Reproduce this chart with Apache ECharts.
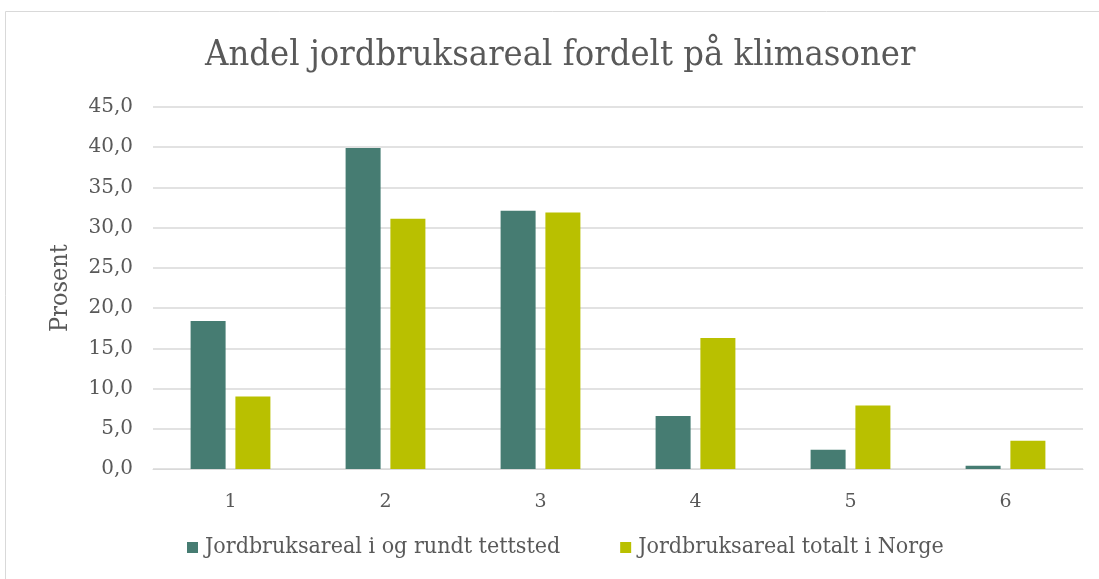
<!DOCTYPE html>
<html>
<head>
<meta charset="utf-8">
<script src="https://cdn.jsdelivr.net/npm/echarts@6/dist/echarts.min.js"></script>
<style>
  html, body { margin: 0; padding: 0; background: #fff; }
  #echarts { width: 1099px; height: 579px; }
</style>
</head>
<body>
<div id="echarts"></div>
<script>
const categories = ['1', '2', '3', '4', '5', '6'];
const tettsted = [18.4, 39.9, 32.1, 6.6, 2.4, 0.4];
const norge = [9.0, 31.1, 31.9, 16.3, 7.9, 3.5];
const seriesNames = ['Jordbruksareal i og rundt tettsted', 'Jordbruksareal totalt i Norge'];

const font = '"DejaVu Serif Condensed", "DejaVu Serif", serif';
const numFont = '"DejaVu Serif", serif';
const textColor = '#595959';

let myChart = echarts.init(document.getElementById('echarts'));
let option = {
  backgroundColor: '#fff',
  textStyle: { fontFamily: font, color: textColor },
  graphic: [
    {
      // chart area frame
      type: 'rect',
      shape: { x: 5.5, y: 11.5, width: 1200, height: 700 },
      style: { fill: 'none', stroke: '#d9d9d9', lineWidth: 1 },
    },
  ],
  title: {
    text: 'Andel jordbruksareal fordelt på klimasoner',
    left: 200,
    top: 33,
    textStyle: { fontFamily: font, fontSize: 36, fontWeight: 'normal', color: textColor },
  },
  legend: {
    bottom: 15,
    left: 182,
    itemWidth: 11,
    itemHeight: 11,
    itemGap: 60,
    icon: 'rect',
    textStyle: { fontFamily: font, fontSize: 23, color: textColor, padding: [0, 0, 0, 2] },
    data: seriesNames,
  },
  grid: {
    left: 153,
    right: 16,
    top: 107,
    bottom: 110,
  },
  xAxis: {
    type: 'category',
    data: categories,
    axisTick: { show: false },
    axisLine: { lineStyle: { color: '#d9d9d9', width: 1 } },
    axisLabel: { fontFamily: numFont, fontSize: 19, color: textColor, margin: 24 },
  },
  yAxis: {
    type: 'value',
    min: 0,
    max: 45,
    interval: 5,
    name: 'Prosent',
    nameLocation: 'middle',
    nameGap: 80,
    nameTextStyle: { fontFamily: font, fontSize: 25, color: textColor },
    axisLine: { show: false },
    axisTick: { show: false },
    splitLine: { lineStyle: { color: '#d9d9d9', width: 1.5 } },
    axisLabel: {
      fontFamily: numFont,
      fontSize: 20,
      color: textColor,
      margin: 20,
      formatter: v => v.toFixed(1).replace('.', ','),
    },
  },
  series: [
    {
      name: seriesNames[0],
      type: 'bar',
      data: tettsted,
      barWidth: 35,
      barGap: '28%',
      itemStyle: { color: '#467c72' },
    },
    {
      name: seriesNames[1],
      type: 'bar',
      data: norge,
      barWidth: 35,
      itemStyle: { color: '#b9c000' },
    },
  ],
};
myChart.setOption(option);
</script>
</body>
</html>
